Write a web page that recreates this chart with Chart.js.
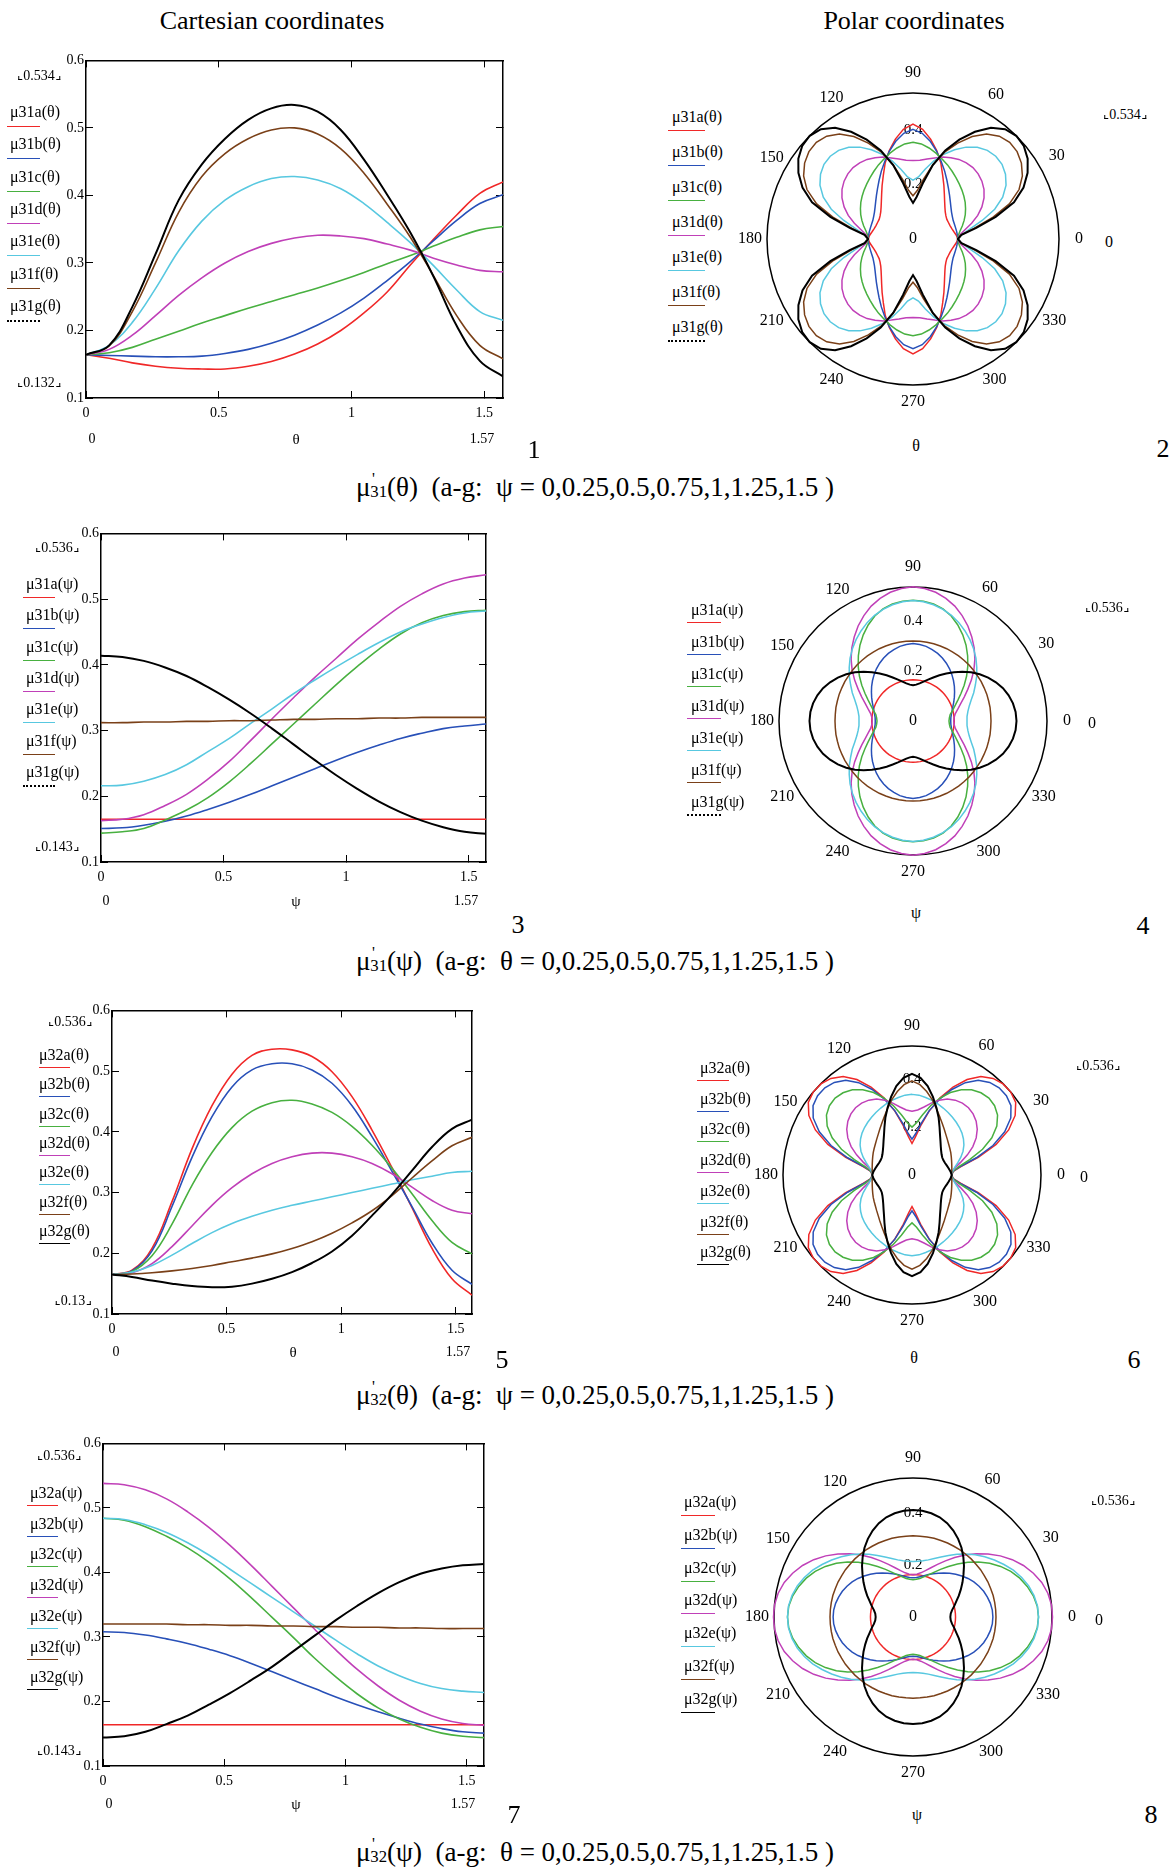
<!DOCTYPE html>
<html>
<head>
<meta charset="utf-8">
<script src="https://cdn.jsdelivr.net/npm/chart.js@4.4.1/dist/chart.umd.min.js"></script>
<style>
html, body { margin: 0; padding: 0; background: #fff; }
body { width: 1176px; height: 1870px; position: relative; overflow: hidden;
       font-family: "Liberation Serif", "DejaVu Serif", serif; color: #000; }
.t   { position: absolute; white-space: nowrap; transform: translate(-50%, -50%); line-height: 1; }
.l   { position: absolute; white-space: nowrap; transform: translateY(-50%); line-height: 1; font-size: 16px; }
.ln  { position: absolute; height: 0; border-top: 1.5px solid #000; }
.ln.dot { border-top: 2px dotted #000; }
.box { position: absolute; }
.rng { font-size: 14px; }
.rng::before, .rng::after { content: ''; display: inline-block; width: 3px; height: 3px; border-bottom: 1px solid #000; }
.rng::before { border-left: 1px solid #000; margin-right: 1px; }
.rng::after  { border-right: 1px solid #000; margin-left: 1px; }
.cap { font-size: 27px; }
.mp  { display: inline-block; position: relative; width: 0.62em; height: 0.7em; }
.mp .pr { position: absolute; left: 0.1em; top: -0.35em; font-size: 0.6em; }
.mp .sb { position: absolute; left: 0; top: 0.42em; font-size: 0.62em; }
</style>
</head>
<body>
<script>
// sample angles (degrees) for every curve: 0 .. 90 in 5 degree steps
const angleDeg = [0, 5, 10, 15, 20, 25, 30, 35, 40, 45, 50, 55, 60, 65, 70, 75, 80, 85, 90];
const polarTicks = [0, 30, 60, 90, 120, 150, 180, 210, 240, 270, 300, 330];
const curveLetters = ['a', 'b', 'c', 'd', 'e', 'f', 'g'];
const curveColors = ['#f02828', '#2850b8', '#48b040', '#c040b8', '#58c8e0', '#7a4018', '#000000'];

// mu'31(theta), a-g: psi = 0, 0.25, 0.5, 0.75, 1, 1.25, 1.5
const mu31Theta = [
    [0.164, 0.159, 0.152, 0.147, 0.144, 0.143, 0.143, 0.147, 0.154, 0.165, 0.180, 0.200, 0.226, 0.257, 0.297, 0.335, 0.371, 0.403, 0.420],
    [0.164, 0.163, 0.162, 0.161, 0.161, 0.162, 0.166, 0.172, 0.181, 0.193, 0.208, 0.226, 0.248, 0.274, 0.302, 0.333, 0.363, 0.388, 0.401],
    [0.164, 0.167, 0.175, 0.187, 0.199, 0.211, 0.222, 0.233, 0.243, 0.253, 0.263, 0.274, 0.286, 0.299, 0.311, 0.325, 0.338, 0.349, 0.354],
    [0.164, 0.172, 0.193, 0.222, 0.252, 0.278, 0.300, 0.317, 0.329, 0.337, 0.341, 0.340, 0.336, 0.328, 0.319, 0.307, 0.297, 0.289, 0.287],
    [0.164, 0.178, 0.212, 0.262, 0.318, 0.362, 0.393, 0.413, 0.425, 0.428, 0.423, 0.410, 0.388, 0.360, 0.330, 0.296, 0.260, 0.228, 0.215],
    [0.164, 0.177, 0.228, 0.300, 0.375, 0.428, 0.462, 0.484, 0.497, 0.500, 0.491, 0.469, 0.433, 0.387, 0.338, 0.281, 0.222, 0.178, 0.158],
    [0.164, 0.178, 0.235, 0.313, 0.393, 0.446, 0.484, 0.512, 0.529, 0.534, 0.524, 0.497, 0.453, 0.401, 0.345, 0.280, 0.207, 0.155, 0.132]
];

// mu'31(psi), a-g: theta = 0 .. 1.5
const mu31Psi = [
    [0.165, 0.165, 0.165, 0.165, 0.165, 0.165, 0.165, 0.165, 0.165, 0.165, 0.165, 0.165, 0.165, 0.165, 0.165, 0.165, 0.165, 0.165, 0.165],
    [0.151, 0.152, 0.156, 0.162, 0.170, 0.180, 0.191, 0.203, 0.216, 0.229, 0.242, 0.255, 0.267, 0.278, 0.288, 0.296, 0.303, 0.307, 0.310],
    [0.144, 0.146, 0.151, 0.164, 0.179, 0.198, 0.222, 0.250, 0.280, 0.310, 0.340, 0.370, 0.398, 0.424, 0.447, 0.464, 0.475, 0.481, 0.483],
    [0.163, 0.165, 0.172, 0.186, 0.203, 0.226, 0.253, 0.285, 0.318, 0.350, 0.381, 0.410, 0.439, 0.465, 0.489, 0.508, 0.523, 0.532, 0.537],
    [0.216, 0.217, 0.223, 0.233, 0.248, 0.268, 0.288, 0.311, 0.333, 0.356, 0.377, 0.397, 0.416, 0.434, 0.450, 0.462, 0.472, 0.479, 0.482],
    [0.312, 0.312, 0.313, 0.313, 0.314, 0.314, 0.315, 0.315, 0.316, 0.317, 0.317, 0.318, 0.318, 0.319, 0.319, 0.320, 0.320, 0.320, 0.320],
    [0.414, 0.412, 0.406, 0.396, 0.383, 0.366, 0.347, 0.326, 0.303, 0.279, 0.255, 0.232, 0.211, 0.192, 0.176, 0.163, 0.153, 0.146, 0.143]
];

// mu'32(theta), a-g: psi = 0 .. 1.5
const mu32Theta = [
    [0.165, 0.172, 0.208, 0.285, 0.372, 0.443, 0.495, 0.526, 0.536, 0.535, 0.524, 0.499, 0.458, 0.403, 0.341, 0.275, 0.208, 0.158, 0.131],
    [0.165, 0.171, 0.204, 0.277, 0.358, 0.425, 0.474, 0.502, 0.512, 0.512, 0.502, 0.480, 0.443, 0.392, 0.335, 0.277, 0.217, 0.172, 0.149],
    [0.165, 0.170, 0.196, 0.248, 0.312, 0.366, 0.407, 0.434, 0.448, 0.452, 0.446, 0.432, 0.409, 0.378, 0.340, 0.298, 0.254, 0.218, 0.199],
    [0.165, 0.168, 0.183, 0.211, 0.245, 0.279, 0.308, 0.331, 0.348, 0.359, 0.365, 0.365, 0.359, 0.348, 0.331, 0.309, 0.287, 0.271, 0.265],
    [0.165, 0.169, 0.180, 0.197, 0.216, 0.234, 0.249, 0.261, 0.271, 0.279, 0.286, 0.293, 0.300, 0.307, 0.314, 0.321, 0.327, 0.333, 0.335],
    [0.165, 0.166, 0.168, 0.171, 0.175, 0.180, 0.186, 0.192, 0.199, 0.208, 0.219, 0.233, 0.250, 0.270, 0.295, 0.324, 0.352, 0.377, 0.391],
    [0.165, 0.161, 0.155, 0.150, 0.146, 0.144, 0.145, 0.150, 0.158, 0.169, 0.184, 0.203, 0.229, 0.262, 0.297, 0.336, 0.375, 0.405, 0.420]
];

// mu'32(psi), a-g: theta = 0 .. 1.5
const mu32Psi = [
    [0.164, 0.164, 0.164, 0.164, 0.164, 0.164, 0.164, 0.164, 0.164, 0.164, 0.164, 0.164, 0.164, 0.164, 0.164, 0.164, 0.164, 0.164, 0.164],
    [0.308, 0.307, 0.303, 0.297, 0.290, 0.281, 0.271, 0.259, 0.246, 0.233, 0.220, 0.207, 0.195, 0.184, 0.174, 0.165, 0.158, 0.153, 0.151],
    [0.484, 0.481, 0.471, 0.456, 0.438, 0.416, 0.390, 0.361, 0.330, 0.299, 0.267, 0.238, 0.212, 0.190, 0.173, 0.160, 0.151, 0.146, 0.144],
    [0.538, 0.536, 0.528, 0.514, 0.494, 0.470, 0.442, 0.411, 0.378, 0.345, 0.312, 0.280, 0.250, 0.224, 0.202, 0.185, 0.173, 0.166, 0.163],
    [0.484, 0.482, 0.474, 0.462, 0.446, 0.427, 0.405, 0.383, 0.361, 0.339, 0.317, 0.295, 0.274, 0.255, 0.240, 0.228, 0.220, 0.216, 0.214],
    [0.320, 0.320, 0.320, 0.320, 0.319, 0.319, 0.318, 0.318, 0.317, 0.317, 0.316, 0.316, 0.315, 0.315, 0.314, 0.314, 0.313, 0.313, 0.313],
    [0.144, 0.146, 0.153, 0.165, 0.178, 0.195, 0.213, 0.233, 0.254, 0.278, 0.302, 0.326, 0.348, 0.368, 0.385, 0.398, 0.406, 0.411, 0.413]
];

const fontFamily = '"Liberation Serif", "DejaVu Serif", serif';
Chart.defaults.font.family = fontFamily;
Chart.defaults.color = '#000';

// panel layout (pixels on the page)
const cartPanels = [
    { L: 86,  R: 503, T: 53,   B: 398,  series: mu31Theta, fn: 'μ31', v: 'θ',
      legX: 10, legLine: [7, 40],  legY: 112,  legStep: 32.3, legDy: 14, dotted: true,
      hi: ['0.534', 39, 76], lo: ['0.132', 39, 383], rowY: 439, row: [[92, '0'], [296, 'θ'], [482, '1.57']], num: ['1', 534, 450] },
    { L: 101, R: 486, T: 526,  B: 862,  series: mu31Psi,   fn: 'μ31', v: 'ψ',
      legX: 26, legLine: [23, 55], legY: 584,  legStep: 31.3, legDy: 13, dotted: true,
      hi: ['0.536', 57, 548], lo: ['0.143', 57, 847], rowY: 901, row: [[106, '0'], [296, 'ψ'], [466, '1.57']], num: ['3', 518, 925] },
    { L: 112, R: 472, T: 1003, B: 1314, series: mu32Theta, fn: 'μ32', v: 'θ',
      legX: 39, legLine: [39, 70], legY: 1055, legStep: 29.3, legDy: 12, dotted: false,
      hi: ['0.536', 70, 1022], lo: ['0.13', 73, 1301], rowY: 1352, row: [[116, '0'], [293, 'θ'], [458, '1.57']], num: ['5', 502, 1360] },
    { L: 103, R: 484, T: 1436, B: 1766, series: mu32Psi,   fn: 'μ32', v: 'ψ',
      legX: 30, legLine: [27, 58], legY: 1493, legStep: 30.7, legDy: 12, dotted: false,
      hi: ['0.536', 59, 1456], lo: ['0.143', 59, 1751], rowY: 1804, row: [[109, '0'], [296, 'ψ'], [463, '1.57']], num: ['7', 514, 1815] }
];

const polarPanels = [
    { cx: 913, cy: 239,  r: 146, max: 0.534, series: mu31Theta, fn: 'μ31', v: 'θ',
      legX: 672, legLine: [668, 705], legY: 117,  legStep: 35,   legDy: 13, dotted: true,
      hi: ['0.534', 1125, 115], zero: [1109, 242], varPos: [916, 446], num: ['2', 1163, 449] },
    { cx: 913, cy: 721,  r: 134, max: 0.536, series: mu31Psi,   fn: 'μ31', v: 'ψ',
      legX: 691, legLine: [687, 721], legY: 610,  legStep: 32,   legDy: 12, dotted: true,
      hi: ['0.536', 1107, 608], zero: [1092, 723], varPos: [916, 913], num: ['4', 1143, 926] },
    { cx: 912, cy: 1175, r: 129, max: 0.536, series: mu32Theta, fn: 'μ32', v: 'θ',
      legX: 700, legLine: [697, 729], legY: 1068, legStep: 30.7, legDy: 12, dotted: false,
      hi: ['0.536', 1098, 1066], zero: [1084, 1177], varPos: [914, 1358], num: ['6', 1134, 1360] },
    { cx: 913, cy: 1617, r: 139, max: 0.536, series: mu32Psi,   fn: 'μ32', v: 'ψ',
      legX: 684, legLine: [681, 715], legY: 1502, legStep: 32.8, legDy: 13, dotted: false,
      hi: ['0.536', 1113, 1501], zero: [1099, 1620], varPos: [917, 1815], num: ['8', 1151, 1815] }
];

const captions = [
    { y: 487,  sub: '31', v: 'θ', w: 'ψ' },
    { y: 961,  sub: '31', v: 'ψ', w: 'θ' },
    { y: 1395, sub: '32', v: 'θ', w: 'ψ' },
    { y: 1852, sub: '32', v: 'ψ', w: 'θ' }
];

function addText(cls, html, x, y, size) {
    const d = document.createElement('div');
    d.className = cls;
    d.innerHTML = html;
    d.style.left = x + 'px';
    d.style.top = y + 'px';
    if (size) d.style.fontSize = size + 'px';
    document.body.appendChild(d);
    return d;
}

function addLegend(p) {
    curveLetters.forEach((c, i) => {
        const y = p.legY + i * p.legStep;
        addText('l', `${p.fn}${c}(${p.v})`, p.legX, y);
        const line = document.createElement('div');
        line.className = 'ln' + (i === 6 && p.dotted ? ' dot' : '');
        line.style.left = p.legLine[0] + 'px';
        line.style.width = (p.legLine[1] - p.legLine[0]) + 'px';
        line.style.top = (y + p.legDy) + 'px';
        line.style.borderTopColor = curveColors[i];
        document.body.appendChild(line);
    });
}

function makeCanvas(w, h) {
    const wrap = document.createElement('div');
    wrap.className = 'box';
    wrap.style.width = w + 'px';
    wrap.style.height = h + 'px';
    const cv = document.createElement('canvas');
    cv.width = w;
    cv.height = h;
    wrap.appendChild(cv);
    document.body.appendChild(wrap);
    return { wrap, cv };
}

const tickGrid = { drawOnChartArea: false, drawTicks: true, tickLength: -7, color: '#000', lineWidth: 1 };
const frame = { display: true, color: '#000', width: 1.5 };

function makeCartesian(p) {
    const padL = 44, padT = 10, padR = 12, padB = 34;
    const w = p.R - p.L + padL + padR;
    const h = p.B - p.T + padT + padB;
    const { wrap, cv } = makeCanvas(w, h);
    wrap.style.left = (p.L - padL) + 'px';
    wrap.style.top = (p.T - padT) + 'px';

    const datasets = p.series.map((vals, i) => ({
        data: vals.map((v, k) => ({ x: angleDeg[k] * Math.PI / 180, y: v })),
        borderColor: curveColors[i],
        borderWidth: i === 6 ? 2 : 1.6,
        pointRadius: 0,
        fill: false,
        tension: 0.4,
        order: 6 - i
    }));

    new Chart(cv, {
        type: 'line',
        data: { datasets },
        options: {
            responsive: false,
            animation: false,
            events: [],
            layout: { padding: { left: 0, top: padT, right: padR, bottom: 0 } },
            plugins: { legend: { display: false }, tooltip: { enabled: false } },
            scales: {
                x: {
                    type: 'linear', position: 'bottom', min: 0, max: Math.PI / 2,
                    ticks: { stepSize: 0.5, includeBounds: false, padding: 14, maxRotation: 0, autoSkip: false,
                             font: { size: 14 }, callback: v => String(Math.round(v * 10) / 10) },
                    grid: tickGrid, border: frame,
                    afterFit: s => { s.height = padB; }
                },
                x2: {
                    type: 'linear', position: 'top', min: 0, max: Math.PI / 2,
                    ticks: { display: false, stepSize: 0.5, includeBounds: false },
                    grid: tickGrid, border: frame,
                    afterFit: s => { s.height = 0; }
                },
                y: {
                    type: 'linear', position: 'left', min: 0.1, max: 0.6,
                    ticks: { stepSize: 0.1, padding: 9, font: { size: 14 } },
                    grid: tickGrid, border: frame,
                    afterFit: s => { s.width = padL; }
                },
                y2: {
                    type: 'linear', position: 'right', min: 0.1, max: 0.6,
                    ticks: { display: false, stepSize: 0.1 },
                    grid: tickGrid, border: frame,
                    afterFit: s => { s.width = 0; }
                }
            }
        }
    });

    addLegend(p);
    addText('t rng', p.hi[0], p.hi[1], p.hi[2]);
    addText('t rng', p.lo[0], p.lo[1], p.lo[2]);
    p.row.forEach(([x, s]) => addText('t', s, x, p.rowY, s === 'θ' || s === 'ψ' ? 15 : 14));
    addText('t', p.num[0], p.num[1], p.num[2], 26);
}

// radar spokes every 5 degrees; spoke 0 points up and they go clockwise
const spokeDeg = [];
for (let i = 0; i < 72; i++) spokeDeg.push((90 - 5 * i + 360) % 360);

// curves are symmetric about both axes, so any angle maps back into 0..90
function foldIndex(deg) {
    let a = deg % 180;
    if (a > 90) a = 180 - a;
    return angleDeg.indexOf(a);
}

const angleLabels = {
    id: 'angleLabels',
    afterDraw(chart) {
        const s = chart.scales.r;
        const ctx = chart.ctx;
        ctx.save();
        ctx.font = '16px ' + fontFamily;
        ctx.fillStyle = '#000';
        ctx.textAlign = 'center';
        ctx.textBaseline = 'middle';
        polarTicks.forEach(a => {
            const idx = spokeDeg.indexOf(a);
            const txt = String(a);
            const p = s.getPointPosition(idx, s.drawingArea + (txt.length > 2 ? 17 : 20));
            ctx.fillText(txt, p.x, p.y);
        });
        const c = s.getPointPosition(0, 0);
        ctx.fillText('0', c.x, c.y);
        ctx.restore();
    }
};

function makePolar(p) {
    const pad = 34;
    const size = 2 * p.r + 2 * pad + 15;
    const { wrap, cv } = makeCanvas(size, size);

    const datasets = p.series.map((vals, i) => ({
        data: spokeDeg.map(d => vals[foldIndex(d)]),
        borderColor: curveColors[i],
        borderWidth: i === 6 ? 2 : 1.5,
        pointRadius: 0,
        fill: false,
        tension: 0,
        order: 6 - i
    }));

    const chart = new Chart(cv, {
        type: 'radar',
        data: { labels: spokeDeg, datasets },
        options: {
            responsive: false,
            animation: false,
            events: [],
            layout: { padding: pad },
            plugins: { legend: { display: false }, tooltip: { enabled: false } },
            scales: {
                r: {
                    min: 0, max: p.max,
                    angleLines: { display: false },
                    pointLabels: { display: false },
                    grid: {
                        circular: true, lineWidth: 1.5,
                        color: ctx => (ctx.tick && ctx.tick.value >= p.max - 1e-9) ? '#000' : 'rgba(0,0,0,0)'
                    },
                    ticks: {
                        stepSize: 0.2, showLabelBackdrop: false, backdropPadding: 0,
                        font: { size: 15 }, color: '#000',
                        callback: v => (Math.abs(v - 0.2) < 1e-6 || Math.abs(v - 0.4) < 1e-6) ? v.toFixed(1) : ''
                    }
                }
            }
        },
        plugins: [angleLabels]
    });

    const s = chart.scales.r;
    wrap.style.left = (p.cx - s.xCenter) + 'px';
    wrap.style.top = (p.cy - s.yCenter) + 'px';

    addLegend(p);
    addText('t rng', p.hi[0], p.hi[1], p.hi[2]);
    addText('t', '0', p.zero[0], p.zero[1], 16);
    addText('t', p.v, p.varPos[0], p.varPos[1], 16);
    addText('t', p.num[0], p.num[1], p.num[2], 26);
}

addText('t', 'Cartesian coordinates', 272, 21, 26);
addText('t', 'Polar coordinates', 914, 21, 26);

cartPanels.forEach(makeCartesian);
polarPanels.forEach(makePolar);

captions.forEach(c => {
    addText('t cap',
        `μ<span class="mp"><span class="pr">'</span><span class="sb">${c.sub}</span></span>(${c.v})&nbsp; (a-g:&nbsp; ${c.w} = 0,0.25,0.5,0.75,1,1.25,1.5 )`,
        595, c.y);
});
</script>
</body>
</html>
